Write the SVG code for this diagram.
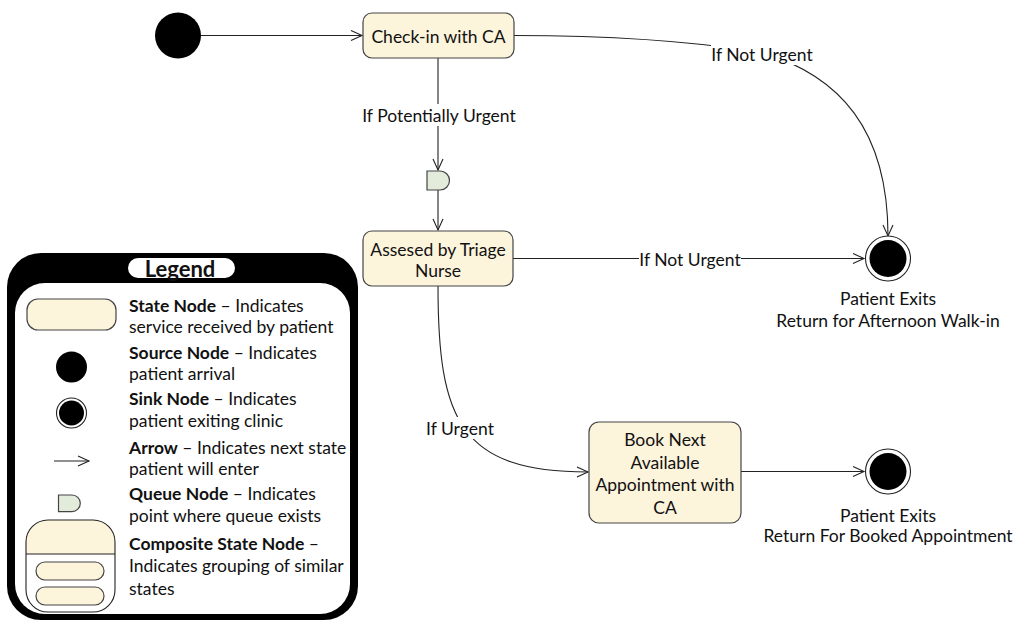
<svg xmlns="http://www.w3.org/2000/svg" width="1017" height="622" viewBox="0 0 1017 622">
<style>
text{font-family:Lato,"Open Sans","Liberation Sans",sans-serif;font-size:17.5px;fill:#111;dominant-baseline:central}
.c{text-anchor:middle}
.b{font-weight:bold}
.state{fill:#fdf4dc;stroke:#444;stroke-width:1.2}
.queue{fill:#e3ebdb;stroke:#444;stroke-width:1.2}
.edge{fill:none;stroke:#222;stroke-width:1.1}
.lbg{fill:#fff}
</style>
<defs>
<marker id="ah" markerUnits="userSpaceOnUse" markerWidth="14" markerHeight="12" refX="11" refY="5" orient="auto" overflow="visible">
<path d="M0,0 L11,5 L0,10" fill="none" stroke="#222" stroke-width="1.1"/>
</marker>
</defs>
<rect width="1017" height="622" fill="#fff"/>

<g id="connectors">
<path class="edge" d="M201,35.5 L362,35.5" marker-end="url(#ah)"/>
<path class="edge" d="M438,58 L438,170" marker-end="url(#ah)"/>
<path class="edge" d="M438,190 L438,230" marker-end="url(#ah)"/>
<path class="edge" d="M514,35.5 Q655,35.5 760,52 C840,75 888,130 888,236" marker-end="url(#ah)"/>
<path class="edge" d="M513,258.5 L864,258.5" marker-end="url(#ah)"/>
<path class="edge" d="M438,286 C438,420 460,472 588,472" marker-end="url(#ah)"/>
<path class="edge" d="M741,471.5 L864,471.5" marker-end="url(#ah)"/>
<rect class="lbg" x="362" y="104" width="154" height="22"/>
<text class="c" x="439" y="115">If Potentially Urgent</text>
<rect class="lbg" x="711" y="43" width="101" height="22"/>
<text class="c" x="762" y="54">If Not Urgent</text>
<rect class="lbg" x="639" y="248" width="102" height="22"/>
<text class="c" x="690" y="259">If Not Urgent</text>
<rect class="lbg" x="426" y="417" width="68" height="22"/>
<text class="c" x="460" y="428">If Urgent</text>
</g>

<g id="source">
<circle cx="178" cy="35.5" r="23" fill="#000"/>
</g>

<g id="checkin">
<rect class="state" x="363" y="13" width="151" height="45" rx="9"/>
<text class="c" x="438.5" y="36">Check-in with CA</text>
</g>

<g id="queue">
<path class="queue" d="M427,171 L440,171 A9.5,9.5 0 0 1 440,190 L427,190 Z"/>
</g>

<g id="triage">
<rect class="state" x="363" y="231" width="150" height="55" rx="9"/>
<text class="c" x="438" y="249">Assesed by Triage</text>
<text class="c" x="438" y="270">Nurse</text>
</g>

<g id="sink1">
<circle cx="888" cy="258.5" r="22.5" fill="#fff" stroke="#222" stroke-width="1.1"/>
<circle cx="888" cy="258.5" r="18.5" fill="#000"/>
<text class="c" x="888" y="298">Patient Exits</text>
<text class="c" x="888" y="320">Return for Afternoon Walk-in</text>
</g>

<g id="book">
<rect class="state" x="589" y="422" width="152" height="101" rx="10"/>
<text class="c" x="665" y="439.5">Book Next</text>
<text class="c" x="665" y="462">Available</text>
<text class="c" x="665" y="484.5">Appointment with</text>
<text class="c" x="665" y="507">CA</text>
</g>

<g id="sink2">
<circle cx="888" cy="471.5" r="22.5" fill="#fff" stroke="#222" stroke-width="1.1"/>
<circle cx="888" cy="471.5" r="18.5" fill="#000"/>
<text class="c" x="888" y="515">Patient Exits</text>
<text class="c" x="888" y="535">Return For Booked Appointment</text>
</g>

<g id="legend">
<rect x="7" y="253" width="351" height="367" rx="34" fill="#000"/>
<rect x="15" y="283" width="335" height="331" rx="30" fill="#fff"/>
<rect x="128" y="258" width="107" height="20" rx="10" fill="#fff"/>
<text class="c b" x="180" y="268" style="font-size:22px">Legend</text>

<rect class="state" x="27" y="299" width="89" height="31" rx="11"/>
<text x="129" y="305"><tspan class="b">State Node</tspan> – Indicates</text>
<text x="129" y="326">service received by patient</text>

<circle cx="71.5" cy="367" r="15.5" fill="#000"/>
<text x="129" y="352"><tspan class="b">Source Node</tspan> – Indicates</text>
<text x="129" y="373">patient arrival</text>

<circle cx="71.5" cy="413" r="15" fill="#fff" stroke="#222" stroke-width="1.1"/>
<circle cx="71.5" cy="413" r="12.5" fill="#000"/>
<text x="129" y="398"><tspan class="b">Sink Node</tspan> – Indicates</text>
<text x="129" y="420">patient exiting clinic</text>

<path class="edge" d="M54,461 L89,461" marker-end="url(#ah)"/>
<text x="129" y="447"><tspan class="b">Arrow</tspan> – Indicates next state</text>
<text x="129" y="468">patient will enter</text>

<path class="queue" d="M58.5,495 L72,495 A8.3,8.3 0 0 1 72,511.6 L58.5,511.6 Z"/>
<text x="129" y="493"><tspan class="b">Queue Node</tspan> – Indicates</text>
<text x="129" y="515">point where queue exists</text>

<path d="M26,554 L26,542 A22,22 0 0 1 48,520 L93,520 A22,22 0 0 1 115,542 L115,554 Z" fill="#fdf4dc"/>
<rect x="26" y="520" width="89" height="92" rx="22" fill="none" stroke="#222" stroke-width="1.1"/>
<line x1="26" y1="554" x2="115" y2="554" stroke="#222" stroke-width="1.1"/>
<rect class="state" x="36" y="562" width="68" height="18" rx="9"/>
<rect class="state" x="36" y="587" width="68" height="18" rx="9"/>
<text x="129" y="543"><tspan class="b">Composite State Node</tspan> –</text>
<text x="129" y="565">Indicates grouping of similar</text>
<text x="129" y="588">states</text>
</g>
</svg>
